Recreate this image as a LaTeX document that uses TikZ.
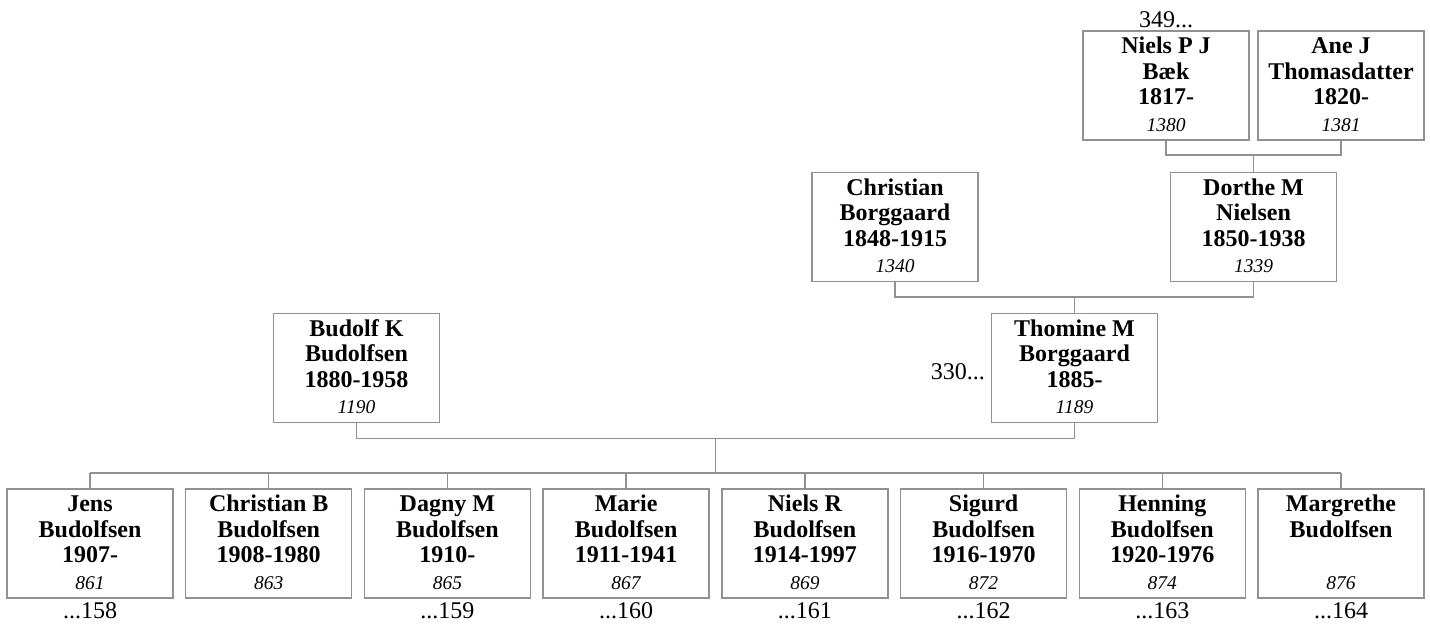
\documentclass[tikz,border=0pt]{standalone}
\usepackage{fontspec}
\setmainfont{Liberation Serif}
\definecolor{boxline}{RGB}{145,145,145}
\tikzset{
  pbox/.style={draw=boxline, line width=1.3pt, minimum width=166pt, minimum height=109pt, inner sep=0pt},
  nametext/.style={anchor=north, inner sep=0pt, align=center, font=\fontsize{24}{25.5}\selectfont\bfseries},
  numtext/.style={anchor=base, inner sep=0pt, font=\fontsize{19.5}{22}\selectfont\itshape},
  reftext/.style={inner sep=0pt, font=\fontsize{24}{26}\selectfont},
  conn/.style={draw=boxline, line width=1.3pt}
}
\newcommand\person[5]{%
  \node[pbox] (#1) at (#2,#3) {};
  \node[nametext] (#1-t) at ([yshift=-5.5pt]#1.north) {\strut #4};
  \node[numtext] (#1-n) at ([yshift=9.5pt]#1.south) {#5};
}
\begin{document}
\begin{tikzpicture}[x=1pt,y=-1pt]
\useasboundingbox (0,0) rectangle (1430,625);
% generation 4
\person{niels}{1166}{85.5}{Niels P J\\Bæk\\1817-}{1380}
\person{ane}{1341}{85.5}{Ane J\\Thomasdatter\\1820-}{1381}
% generation 3
\person{christian}{895}{227}{Christian\\Borggaard\\1848-1915}{1340}
\person{dorthe}{1253.5}{227}{Dorthe M\\Nielsen\\1850-1938}{1339}
% generation 2
\person{budolf}{356.5}{368}{Budolf K\\Budolfsen\\1880-1958}{1190}
\person{thomine}{1074.5}{368}{Thomine M\\Borggaard\\1885-}{1189}
% children
\person{ch1}{90}{543.5}{Jens\\Budolfsen\\1907-}{861}
\person{ch2}{268.7}{543.5}{Christian B\\Budolfsen\\1908-1980}{863}
\person{ch3}{447.4}{543.5}{Dagny M\\Budolfsen\\1910-}{865}
\person{ch4}{626.1}{543.5}{Marie\\Budolfsen\\1911-1941}{867}
\person{ch5}{804.9}{543.5}{Niels R\\Budolfsen\\1914-1997}{869}
\person{ch6}{983.6}{543.5}{Sigurd\\Budolfsen\\1916-1970}{872}
\person{ch7}{1162.3}{543.5}{Henning\\Budolfsen\\1920-1976}{874}
\person{ch8}{1341}{543.5}{Margrethe\\Budolfsen}{876}
% reference labels
\node[reftext, anchor=base] (r349) at (1166,27) {349...};
\node[reftext, anchor=base east] (r330) at (985,379) {330...};
\node[reftext, anchor=base] (r158) at (90,618) {...158};
\node[reftext, anchor=base] (r159) at (447.4,618) {...159};
\node[reftext, anchor=base] (r160) at (626.1,618) {...160};
\node[reftext, anchor=base] (r161) at (804.9,618) {...161};
\node[reftext, anchor=base] (r162) at (983.6,618) {...162};
\node[reftext, anchor=base] (r163) at (1162.3,618) {...163};
\node[reftext, anchor=base] (r164) at (1341,618) {...164};
% connectors
\coordinate (c1) at (1253.5,155);
\coordinate (c2) at (1074.5,297);
\coordinate (c3) at (715.5,438.5);
\coordinate (c4) at (715.5,473);
\draw[conn] (niels.south) |- (c1) -| (ane.south);
\draw[conn] (c1) -- (dorthe.north);
\draw[conn] (christian.south) |- (c2) -| (dorthe.south);
\draw[conn] (c2) -- (thomine.north);
\draw[conn] (budolf.south) |- (c3) -| (thomine.south);
\draw[conn] (c3) -- (c4);
\draw[conn] (c4 -| ch1.north) -- (c4 -| ch8.north);
\foreach \c in {ch1,ch2,ch3,ch4,ch5,ch6,ch7,ch8}{
  \draw[conn] (c4 -| \c.north) -- (\c.north);
}
\end{tikzpicture}
\end{document}
